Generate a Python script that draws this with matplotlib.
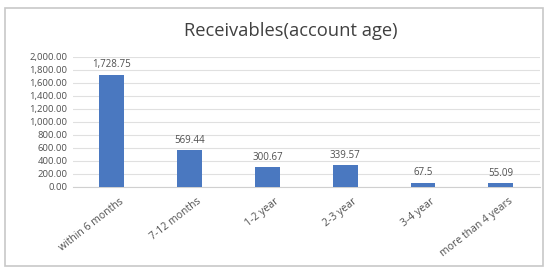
import numpy as np
import matplotlib
matplotlib.use("Agg")
import matplotlib.pyplot as plt
from matplotlib.patches import Rectangle

categories = ["within 6 months", "7-12 months", "1-2 year", "2-3 year", "3-4 year", "more than 4 years"]
values = [1728.75, 569.44, 300.67, 339.57, 67.5, 55.09]
value_labels = ["1,728.75", "569.44", "300.67", "339.57", "67.5", "55.09"]
yticks = [0, 200, 400, 600, 800, 1000, 1200, 1400, 1600, 1800, 2000]

bar_color = "#4a78c0"
text_color = "#505050"

plt.rcParams['font.family'] = ['Open Sans', 'DejaVu Sans']

fig = plt.figure(figsize=(5.49, 2.67), dpi=100)
fig.patches.append(Rectangle((5 / 549, 1 - 266 / 267), 538 / 549, 258 / 267, transform=fig.transFigure,
                             fill=False, edgecolor="#c8c8c8", linewidth=1.2))

ax = fig.add_axes([0.133, 0.300, 0.850, 0.487])
x = np.arange(len(categories))
ax.bar(x, values, width=0.32, color=bar_color, zorder=3)

for xi, v, lab in zip(x, values, value_labels):
    ax.annotate(lab, (xi, v), xytext=(0, 3), textcoords="offset points",
                ha="center", va="bottom", fontsize=7, color=text_color)

ax.set_xlim(-0.5, len(categories) - 0.5)
ax.set_ylim(0, 2000)
ax.set_yticks(yticks)
ax.set_yticklabels([f"{t:,.2f}" for t in yticks], fontsize=6.8, color=text_color)
ax.set_xticks(x)
ax.set_xticklabels([])
# category labels drawn by hand so they can sit a bit right of the tick, like Excel does
for xi, cat in zip(x, categories):
    ax.annotate(cat, (xi, 0), xycoords=("data", "axes fraction"), xytext=(7.5, -9.5),
                textcoords="offset points", rotation=38, ha="right", va="center",
                rotation_mode="anchor", fontsize=7.5, color=text_color, annotation_clip=False)
ax.tick_params(axis="both", length=0, pad=4)
ax.grid(axis="y", color="#e0e0e0", linewidth=0.8, zorder=0)
for s in ["top", "right", "left"]:
    ax.spines[s].set_visible(False)
ax.spines["bottom"].set_color("#d0d0d0")

fig.text(0.53, 1 - 31 / 267, "Receivables(account age)", ha="center", va="center",
         fontsize=13.2, color="#404040")

fig.savefig("out.png", dpi=100)
